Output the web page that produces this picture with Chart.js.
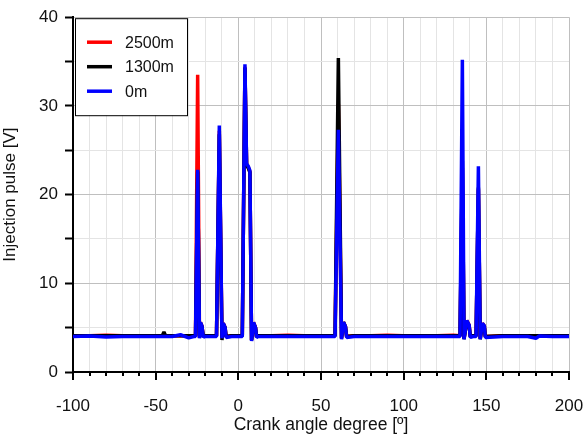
<!DOCTYPE html>
<html>
<head>
<meta charset="utf-8">
<script src="https://cdn.jsdelivr.net/npm/chart.js@4"></script>
<style>
  html, body { margin: 0; padding: 0; background: #fff; }
  #wrap { width: 584px; height: 437px; }
</style>
</head>
<body>
<div id="wrap"><canvas id="pulseChart" width="584" height="437"></canvas></div>
<script>
// crank angle (deg) shared by all three traces
const angles = [
  -100, -90, -80, -70, -60, -50, -46, -45, -44, -40, -35, -30, -27,
  -25.9, -24.6, -23.5, -22.9, -22.0, -21.2, -20.5,
  -18, -14,
  -13.2, -11.5, -9.9, -9.1, -8.0, -7.4,
  -4, 0,
  2.4, 4.0, 5.0, 6.0, 7.0, 8.0, 9.2, 10.4, 11.0, 12.0,
  20, 30, 40, 50, 58,
  58.5, 60.5, 62.4, 63.6, 64.8, 65.5,
  70, 80, 90, 100, 110, 120, 130,
  134.1, 135.5, 136.5, 138.2, 139.6, 140.3,
  142,
  143.8, 145.2, 146.3, 147.6, 148.8, 149.4,
  160, 170, 175, 180, 182, 190, 200
];

// injection pulse [V]
const pulse2500 = [
  4.1, 4.1, 4.15, 4.1, 4.1, 4.1, 4.1, 4.1, 4.1, 4.1, 4.1, 4.1, 4.1,
  4.1, 33.5, 3.9, 5.6, 5.2, 4.0, 4.1,
  4.1, 4.1,
  4.1, 27.2, 3.9, 5.5, 5.0, 4.0,
  4.1, 4.1,
  4.1, 34.4, 23.4, 23.1, 22.6, 3.6, 5.6, 5.0, 4.0, 4.1,
  4.1, 4.15, 4.1, 4.1, 4.1,
  4.1, 30.2, 3.8, 5.6, 5.1, 4.0,
  4.1, 4.1, 4.15, 4.1, 4.1, 4.1, 4.15,
  4.1, 23.0, 3.8, 5.8, 5.3, 4.0,
  4.1,
  4.1, 20.6, 3.8, 5.5, 5.2, 4.0,
  4.1, 4.05, 4.1, 4.1, 4.05, 4.1, 4.1
];
const pulse1300 = [
  4.1, 4.1, 4.1, 4.1, 4.1, 4.1, 4.1, 4.5, 4.1, 4.1, 4.1, 4.1, 4.1,
  4.1, 22.6, 3.9, 5.5, 5.1, 4.0, 4.1,
  4.1, 4.1,
  4.1, 26.8, 3.6, 5.4, 5.0, 4.0,
  4.1, 4.1,
  4.1, 34.3, 23.3, 23.0, 22.5, 3.6, 5.5, 5.0, 4.0, 4.1,
  4.1, 4.1, 4.1, 4.1, 4.1,
  4.1, 35.4, 3.8, 5.6, 5.1, 4.0,
  4.1, 4.1, 4.1, 4.1, 4.1, 4.1, 4.1,
  4.1, 23.8, 3.7, 5.7, 5.2, 4.0,
  4.1,
  4.1, 20.8, 3.7, 5.4, 5.1, 4.0,
  4.1, 4.1, 4.1, 4.1, 4.1, 4.1, 4.1
];
const pulse0 = [
  4.0, 4.05, 3.95, 4.0, 4.0, 4.0, 4.0, 4.0, 4.0, 4.0, 4.2, 3.85, 4.0,
  4.0, 22.8, 3.8, 5.6, 5.2, 3.9, 4.0,
  4.0, 4.0,
  4.0, 27.8, 3.8, 5.5, 5.0, 3.9,
  4.0, 4.0,
  4.0, 34.7, 23.5, 23.2, 22.7, 3.5, 5.6, 5.0, 3.9, 4.0,
  4.0, 4.0, 4.0, 4.0, 4.0,
  4.0, 27.3, 3.7, 5.6, 5.1, 3.9,
  4.0, 4.0, 4.0, 4.0, 4.0, 4.0, 4.0,
  4.0, 35.2, 3.7, 5.8, 5.3, 3.9,
  4.0,
  4.0, 23.2, 3.7, 5.5, 5.2, 3.9,
  4.0, 4.0, 4.0, 3.8, 4.05, 4.0, 4.0
];

const seriesNames = ['2500m', '1300m', '0m'];
const seriesColors = ['#ff0000', '#000000', '#0000ff'];
const seriesValues = [pulse2500, pulse1300, pulse0];

const FONT = "'Liberation Sans', Arial, sans-serif";

function toPoints(values) {
  return angles.map((a, i) => ({ x: a, y: values[i] }));
}

// boxed legend in the top-left corner of the plot
const boxLegend = {
  id: 'boxLegend',
  afterDraw(chart) {
    const ctx = chart.ctx;
    const area = chart.chartArea;
    const x0 = area.left + 2, y0 = area.top + 1;
    ctx.save();
    ctx.fillStyle = '#fff';
    ctx.fillRect(x0, y0, 112, 97);
    ctx.strokeStyle = '#000';
    ctx.lineWidth = 1;
    ctx.strokeRect(x0 + 0.5, y0 + 0.5, 112, 97);
    ctx.font = '16px ' + FONT;
    ctx.textBaseline = 'middle';
    seriesNames.forEach((name, i) => {
      const y = y0 + 24 + i * 24.5;
      ctx.strokeStyle = seriesColors[i];
      ctx.lineWidth = 3.5;
      ctx.beginPath();
      ctx.moveTo(x0 + 12, y);
      ctx.lineTo(x0 + 37, y);
      ctx.stroke();
      ctx.fillStyle = '#111';
      ctx.fillText(name, x0 + 50, y + 1);
    });
    ctx.restore();
  }
};

// x tick marks: long at labelled values, short in between
const xTickMarks = {
  id: 'xTickMarks',
  afterDraw(chart) {
    const ctx = chart.ctx;
    const sx = chart.scales.x;
    const bottom = chart.chartArea.bottom;
    ctx.save();
    ctx.strokeStyle = '#000';
    ctx.lineWidth = 2;
    sx.ticks.forEach(t => {
      const px = Math.round(sx.getPixelForValue(t.value));
      const len = t.value % 50 === 0 ? 8 : 4;
      ctx.beginPath();
      ctx.moveTo(px, bottom);
      ctx.lineTo(px, bottom + len);
      ctx.stroke();
    });
    ctx.restore();
  }
};

const ctx = document.getElementById('pulseChart').getContext('2d');
new Chart(ctx, {
  type: 'scatter',
  data: {
    datasets: seriesValues.map((vals, i) => ({
      label: seriesNames[i],
      data: toPoints(vals),
      showLine: true,
      borderColor: seriesColors[i],
      backgroundColor: seriesColors[i],
      borderWidth: 3.5,
      borderJoinStyle: 'bevel',
      pointRadius: 0,
      tension: 0,
      order: 3 - i
    }))
  },
  options: {
    responsive: false,
    animation: false,
    layout: { padding: { top: 17, right: 0, left: 0, bottom: 0 } },
    plugins: {
      legend: { display: false },
      tooltip: { enabled: false }
    },
    scales: {
      x: {
        type: 'linear',
        min: -100,
        max: 200,
        afterFit: s => { s.height = 65; s.paddingRight = 15; s.paddingLeft = 0; },
        border: { color: '#000', width: 2 },
        grid: {
          color: c => (c.tick.value % 50 === 0 ? '#bfbfbf' : '#e4e4e4'),
          lineWidth: 1,
          tickLength: 8,
          tickColor: 'rgba(0,0,0,0)'
        },
        ticks: {
          stepSize: 10,
          autoSkip: false,
          maxRotation: 0,
          padding: 16,
          color: '#111',
          font: { family: FONT, size: 17 },
          callback: v => (v % 50 === 0 ? v : '')
        },
        title: {
          display: true,
          text: 'Crank angle degree [º]',
          color: '#111',
          font: { family: FONT, size: 17.5 },
          padding: { top: 0, bottom: 1 }
        }
      },
      y: {
        min: 0,
        max: 40,
        afterFit: s => { s.width = 73; },
        border: { color: '#000', width: 2 },
        grid: {
          color: c => (c.tick.value % 10 === 0 ? '#bfbfbf' : '#e4e4e4'),
          lineWidth: 1,
          tickLength: 8,
          tickColor: '#000',
          tickWidth: 2
        },
        ticks: {
          stepSize: 5,
          autoSkip: false,
          padding: 7,
          color: '#111',
          font: { family: FONT, size: 17 },
          callback: v => (v % 10 === 0 ? v : '')
        },
        title: {
          display: true,
          text: 'Injection pulse [V]',
          color: '#111',
          font: { family: FONT, size: 17 },
          padding: { top: 0, bottom: 2 }
        }
      }
    }
  },
  plugins: [boxLegend, xTickMarks]
});
</script>
</body>
</html>
